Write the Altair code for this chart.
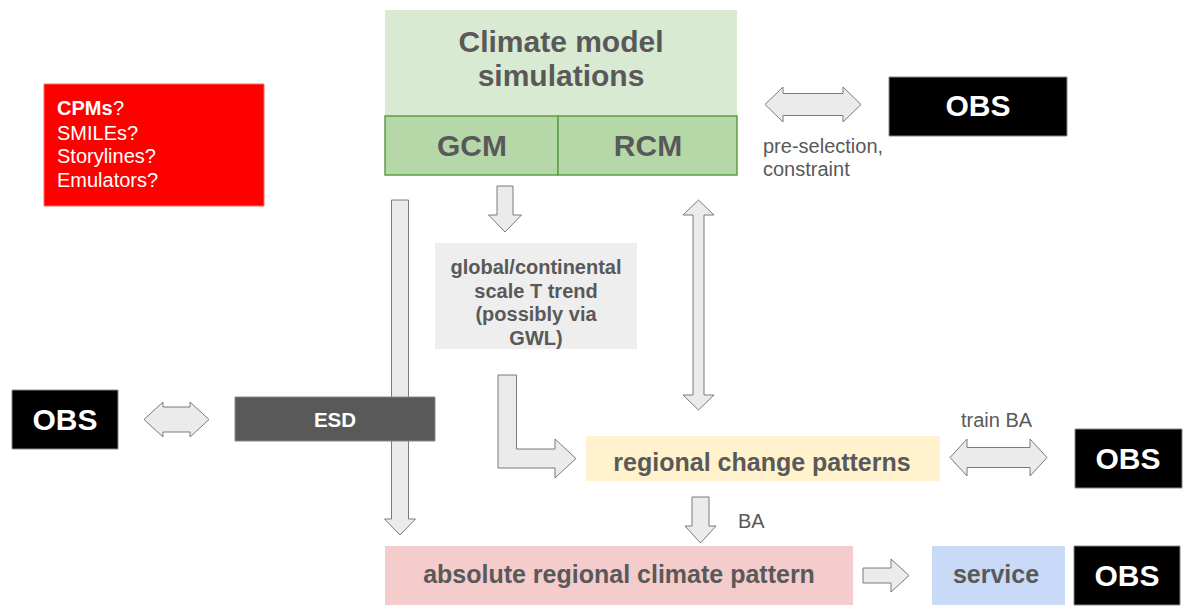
import altair as alt
import pandas as pd

# ---------------- boxes (reference pixel coordinates) ----------------
box_id = ["cpm", "climate", "gcm", "rcm", "obs_top", "trend", "obs_left", "esd",
          "regional", "obs_mid", "absolute", "service", "obs_bottom"]
box_x0 = [44, 385, 385, 558, 889, 435, 12, 235, 586, 1075, 385, 932, 1074]
box_x1 = [264, 737, 558, 737, 1067, 637, 118, 435, 940, 1182, 853, 1065, 1180]
box_y0 = [84, 10, 116, 116, 77, 243, 390, 397, 436, 429, 546, 546, 546]
box_y1 = [206, 116, 175, 175, 136, 349, 449, 441, 481, 488, 605, 605, 605]
box_fill = ["#ff0000", "#d9ead3", "#b6d7a8", "#b6d7a8", "#000000", "#eeeeee", "#000000",
            "#595959", "#fff2cc", "#000000", "#f4cccc", "#c9daf8", "#000000"]
box_stroke = ["#ff6666", "#d9ead3", "#5f9e45", "#5f9e45", "#888888", "#eeeeee", "#888888",
              "#888888", "#fff2cc", "#888888", "#f4cccc", "#c9daf8", "#888888"]
box_sw = [1, 0, 1.5, 1.5, 1, 0, 1, 1, 0, 1, 0, 0, 1]

# ---------------- block arrows ----------------
# start point, end point, shaft half-width, head half-width, head length, double-headed
arrow_id = ["preselect", "gcm_down", "rcm_double", "esd_long", "obs_esd", "train_ba", "ba_down", "to_service"]
arrow_x0 = [765, 505, 698.5, 400, 144, 950, 700.5, 863]
arrow_y0 = [104.5, 186, 200, 200, 419.5, 457.5, 497, 575.5]
arrow_x1 = [861, 505, 698.5, 400, 209, 1047, 700.5, 909]
arrow_y1 = [104.5, 232, 410, 535, 419.5, 457.5, 543, 575.5]
arrow_shaft = [11, 8, 5.5, 8.5, 12.5, 10, 8.5, 7.5]
arrow_head = [17.5, 16.5, 15.5, 15.5, 17.5, 18.5, 15.5, 16.5]
arrow_hlen = [18, 17, 15, 16, 19, 17, 17, 18]
arrow_double = [True, False, True, False, True, True, False, False]

# bent arrow (trend -> regional change patterns)
bent_x = [498, 516.5, 516.5, 555, 555, 576, 555, 555, 498]
bent_y = [375, 375, 449, 449, 439, 458.5, 478, 468, 468]

# ---------------- labels ----------------
lab_text = ["Climate model", "simulations", "GCM", "RCM",
            "global/continental", "scale T trend", "(possibly via", "GWL)",
            "regional change patterns", "absolute regional climate pattern", "service"]
lab_x = [561, 561, 472, 648, 536, 536, 536, 536, 762, 619, 996]
lab_y = [43, 77, 147, 147, 268, 292, 315, 339, 463, 575, 575]
lab_size = [30, 30, 30, 30, 20, 20, 20, 20, 25, 25, 25]

white_text = ["OBS", "OBS", "ESD", "OBS", "OBS"]
white_x = [978, 65, 335, 1128, 1127]
white_y = [107, 421, 421, 460, 577]
white_size = [30, 30, 20.5, 30, 30]

cpm_text = ["?", "SMILEs?", "Storylines?", "Emulators?"]
cpm_x = [113, 57, 57, 57]
cpm_y = [109, 134, 157, 181]

note_text = ["pre-selection,", "constraint", "train BA", "BA"]
note_x = [763, 763, 961, 738]
note_y = [147, 170, 421, 522]

FONT = "Liberation Sans"
GREY = "#595959"

# ---------------- build tables ----------------
boxes = pd.DataFrame({"id": box_id, "x": box_x0, "x2": box_x1, "y": box_y0, "y2": box_y1,
                      "fill": box_fill, "stroke": box_stroke, "sw": box_sw})


def arrow_polygon(x0, y0, x1, y1, sw, hw, hl, double):
    L = ((x1 - x0) ** 2 + (y1 - y0) ** 2) ** 0.5
    dx, dy = (x1 - x0) / L, (y1 - y0) / L
    nx, ny = -dy, dx

    def p(base_x, base_y, along, side):
        return (base_x + along * dx + side * nx, base_y + along * dy + side * ny)

    pts = []
    if double:
        pts += [p(x0, y0, 0, 0), p(x0, y0, hl, hw), p(x0, y0, hl, sw)]
    else:
        pts += [p(x0, y0, 0, sw)]
    pts += [p(x1, y1, -hl, sw), p(x1, y1, -hl, hw), p(x1, y1, 0, 0),
            p(x1, y1, -hl, -hw), p(x1, y1, -hl, -sw)]
    if double:
        pts += [p(x0, y0, hl, -sw), p(x0, y0, hl, -hw)]
    else:
        pts += [p(x0, y0, 0, -sw)]
    return pts


rows = []
for i, aid in enumerate(arrow_id):
    pts = arrow_polygon(arrow_x0[i], arrow_y0[i], arrow_x1[i], arrow_y1[i],
                        arrow_shaft[i], arrow_head[i], arrow_hlen[i], arrow_double[i])
    for k, (px, py) in enumerate(pts):
        rows.append({"id": aid, "k": k, "x": px, "y": py})
for k, (px, py) in enumerate(zip(bent_x, bent_y)):
    rows.append({"id": "bent", "k": k, "x": px, "y": py})
arrows = pd.DataFrame(rows)

labels = pd.DataFrame({"text": lab_text, "x": lab_x, "y": lab_y, "size": lab_size})
whites = pd.DataFrame({"text": white_text, "x": white_x, "y": white_y, "size": white_size})
cpm = pd.DataFrame({"text": cpm_text, "x": cpm_x, "y": cpm_y})
cpm_bold = pd.DataFrame({"text": ["CPMs"], "x": [57], "y": [109]})
notes = pd.DataFrame({"text": note_text, "x": note_x, "y": note_y})

W, H = 1175, 598
xs = alt.Scale(domain=[8, 8 + W], nice=False, zero=False)
ys = alt.Scale(domain=[8, 8 + H], nice=False, zero=False, reverse=True)
X = lambda f="x": alt.X(f"{f}:Q", scale=xs, axis=None)
Y = lambda f="y": alt.Y(f"{f}:Q", scale=ys, axis=None)

arrow_layer = alt.Chart(arrows).mark_line(
    fill="#ebebeb", stroke="#7a7a7a", strokeWidth=1, interpolate="linear-closed"
).encode(x=X(), y=Y(), detail="id:N", order="k:Q")

box_layer = alt.Chart(boxes).mark_rect().encode(
    x=X(), x2="x2:Q", y=Y(), y2="y2:Q",
    fill=alt.Fill("fill:N", scale=None),
    stroke=alt.Stroke("stroke:N", scale=None),
    strokeWidth=alt.StrokeWidth("sw:Q", scale=None),
)

label_layer = alt.Chart(labels).mark_text(
    font=FONT, fontWeight="bold", color=GREY, align="center", baseline="middle"
).encode(x=X(), y=Y(), text="text:N", size=alt.Size("size:Q", scale=None))

white_layer = alt.Chart(whites).mark_text(
    font=FONT, fontWeight="bold", color="#ffffff", align="center", baseline="middle"
).encode(x=X(), y=Y(), text="text:N", size=alt.Size("size:Q", scale=None))

cpm_layer = alt.Chart(cpm).mark_text(
    font=FONT, fontSize=20, color="#ffffff", align="left", baseline="middle"
).encode(x=X(), y=Y(), text="text:N")

cpm_bold_layer = alt.Chart(cpm_bold).mark_text(
    font=FONT, fontSize=20, fontWeight="bold", color="#ffffff", align="left", baseline="middle"
).encode(x=X(), y=Y(), text="text:N")

note_layer = alt.Chart(notes).mark_text(
    font=FONT, fontSize=20, color=GREY, align="left", baseline="middle"
).encode(x=X(), y=Y(), text="text:N")

chart = alt.layer(
    arrow_layer, box_layer, label_layer, white_layer, cpm_layer, cpm_bold_layer, note_layer
).properties(
    width=W, height=H, padding=0, autosize=alt.AutoSizeParams(type="none"),
    background="#ffffff"
).configure_view(strokeWidth=0)

chart.save("out.html", embed_options={"renderer": "svg", "actions": False})
